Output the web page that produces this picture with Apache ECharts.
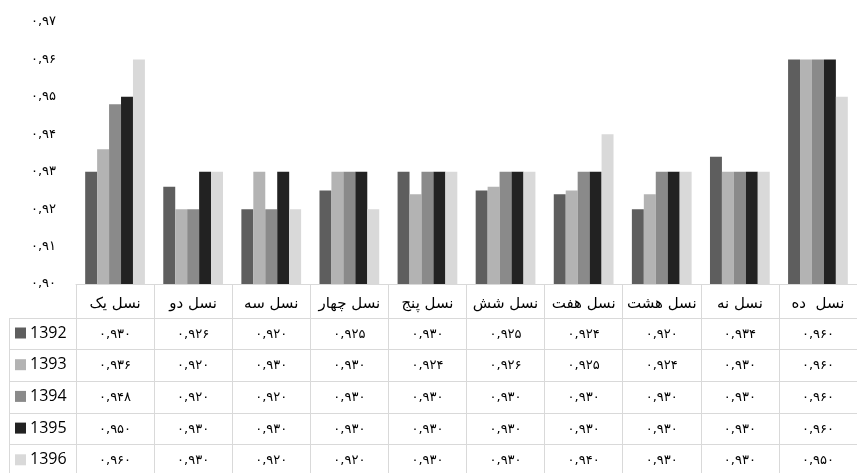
<!DOCTYPE html>
<html>
<head>
<meta charset="utf-8">
<style>
  html, body { margin: 0; padding: 0; background: #fff; }
  #chart { width: 857px; height: 473px; }
</style>
<script src="https://cdn.jsdelivr.net/npm/echarts@6/dist/echarts.min.js"></script>
</head>
<body>
<div id="chart"></div>
<script>
// Generations (categories) and years (series)
const categories = ['نسل یک', 'نسل دو', 'نسل سه', 'نسل چهار', 'نسل پنج', 'نسل شش', 'نسل هفت', 'نسل هشت', 'نسل نه', 'نسل  ده'];
const years = ['1392', '1393', '1394', '1395', '1396'];

const v1392 = [0.930, 0.926, 0.920, 0.925, 0.930, 0.925, 0.924, 0.920, 0.934, 0.960];
const v1393 = [0.936, 0.920, 0.930, 0.930, 0.924, 0.926, 0.925, 0.924, 0.930, 0.960];
const v1394 = [0.948, 0.920, 0.920, 0.930, 0.930, 0.930, 0.930, 0.930, 0.930, 0.960];
const v1395 = [0.950, 0.930, 0.930, 0.930, 0.930, 0.930, 0.930, 0.930, 0.930, 0.960];
const v1396 = [0.960, 0.930, 0.920, 0.920, 0.930, 0.930, 0.940, 0.930, 0.930, 0.950];

const yMin = 0.90, yMax = 0.97, yStep = 0.01;

const seriesValues = [v1392, v1393, v1394, v1395, v1396];
const colors = ['#5e5e5e', '#b3b3b3', '#8a8a8a', '#222222', '#d9d9d9'];

// Persian digits with a comma as decimal separator
const faDigits = '۰۱۲۳۴۵۶۷۸۹';
function toFa(num, decimals) {
  return num.toFixed(decimals).replace('.', ',').replace(/[0-9]/g, d => faDigits[+d]);
}

// Layout
const W = 857, H = 473;
const gridLeft = 76, gridTop = 22, plotBottom = 284;
const colWidth = 79.2;
const rowOffsets = [34, 65, 97, 129, 160];   // table row lines below the axis
const tableLeft = 9;
const lineColor = '#d9d9d9';
const faFont = 'DejaVu Sans';

const chart = echarts.init(document.getElementById('chart'), null, { renderer: 'canvas' });

// Main category axis: header row of the table + column separators
const xAxes = [{
  type: 'category',
  data: categories,
  gridIndex: 0,
  position: 'bottom',
  axisLine: { show: true, lineStyle: { color: lineColor, width: 1 } },
  axisTick: { show: true, alignWithLabel: false, length: H - plotBottom, lineStyle: { color: lineColor, width: 1 } },
  axisLabel: { color: '#000', fontFamily: faFont, fontSize: 15, margin: 13, interval: 0 },
  splitLine: { show: false }
}];

// One extra axis per table row, showing the values of that year
seriesValues.forEach((vals, k) => {
  xAxes.push({
    type: 'category',
    data: categories,
    gridIndex: 0,
    position: 'bottom',
    offset: rowOffsets[k],
    axisLine: { show: true, lineStyle: { color: lineColor, width: 1 } },
    axisTick: { show: false },
    axisLabel: {
      color: '#000', fontFamily: faFont, fontSize: 13, margin: 10, interval: 0,
      formatter: (v, i) => toFa(vals[i], 3)
    },
    splitLine: { show: false }
  });
});

// Left column borders of the table
const graphic = [];
rowOffsets.forEach(off => {
  const y = plotBottom + off + 0.5;
  graphic.push({
    type: 'line', silent: true,
    shape: { x1: tableLeft, y1: y, x2: gridLeft, y2: y },
    style: { stroke: lineColor, lineWidth: 1 }
  });
});
graphic.push({
  type: 'line', silent: true,
  shape: { x1: tableLeft + 0.5, y1: plotBottom + rowOffsets[0], x2: tableLeft + 0.5, y2: H },
  style: { stroke: lineColor, lineWidth: 1 }
});

const option = {
  animation: false,
  backgroundColor: '#ffffff',
  grid: { left: gridLeft, top: gridTop, width: colWidth * categories.length, height: plotBottom - gridTop, containLabel: false },
  legend: {
    data: years,
    orient: 'vertical',
    left: 15,
    top: plotBottom + rowOffsets[0] + 7,
    padding: 0,
    itemWidth: 11,
    itemHeight: 11,
    itemGap: 15.7,
    icon: 'rect',
    selectedMode: false,
    textStyle: { color: '#000', fontFamily: 'Open Sans', fontSize: 16, lineHeight: 16, padding: [0, 0, 0, -1] }
  },
  xAxis: xAxes,
  yAxis: {
    type: 'value',
    min: yMin,
    max: yMax,
    interval: yStep,
    axisLine: { show: false },
    axisTick: { show: false },
    splitLine: { show: false },
    axisLabel: { color: '#000', fontFamily: faFont, fontSize: 13, margin: 20, formatter: v => toFa(v, 2) }
  },
  graphic: graphic,
  series: seriesValues.map((vals, k) => ({
    name: years[k],
    type: 'bar',
    xAxisIndex: 0,
    data: vals,
    barGap: '0%',
    barCategoryGap: '23.5%',
    itemStyle: { color: colors[k] },
    emphasis: { disabled: true }
  }))
};

chart.setOption(option);
</script>
</body>
</html>
